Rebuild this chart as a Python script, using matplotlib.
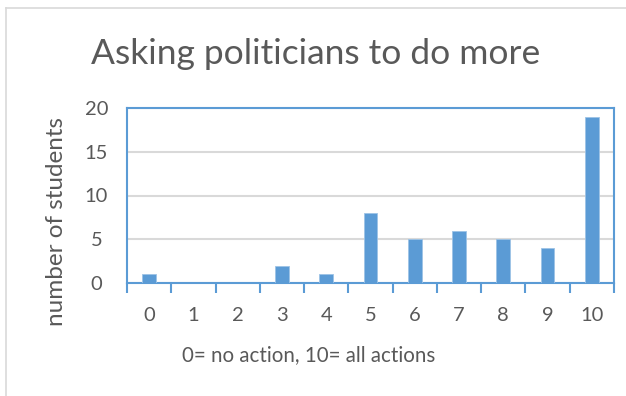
import matplotlib.pyplot as plt
from matplotlib.lines import Line2D

categories = ["0", "1", "2", "3", "4", "5", "6", "7", "8", "9", "10"]
students = [1, 0, 0, 2, 1, 8, 5, 6, 5, 4, 19]
y_ticks = [0, 5, 10, 15, 20]

title = "Asking politicians to do more"
x_title = "0= no action, 10= all actions"
y_title = "number of students"

bar_color = "#5B9BD5"
axis_color = "#5B9BD5"
text_color = "#595959"
grid_color = "#D9D9D9"

plt.rcParams["font.family"] = ["Lato", "DejaVu Sans"]

W, H = 626, 396
fig = plt.figure(figsize=(W / 100, H / 100), dpi=100)

# chart frame (top and left edges)
fig.add_artist(Line2D([6 / W, 1], [1 - 8 / H, 1 - 8 / H], color="#D9D9D9", lw=1.2, transform=fig.transFigure))
fig.add_artist(Line2D([6 / W, 6 / W], [0, 1 - 8 / H], color="#D9D9D9", lw=1.2, transform=fig.transFigure))

left, right, top, bottom = 127, 614, 108, 283
ax = fig.add_axes([left / W, 1 - bottom / H, (right - left) / W, (bottom - top) / H])

x = list(range(len(categories)))
ax.bar(x, students, width=0.31, color=bar_color, edgecolor="#9DC3E6", linewidth=0.6, zorder=3)

ax.set_xlim(-0.5, len(categories) - 0.5)
ax.set_ylim(0, 20)
ax.set_yticks(y_ticks)
ax.set_yticklabels([str(v) for v in y_ticks], fontsize=14.5, color=text_color)
ax.tick_params(axis="y", length=0, pad=22)
for lbl in ax.get_yticklabels():
    lbl.set_horizontalalignment("center")
ax.yaxis.grid(True, color=grid_color, lw=1.5, zorder=0)

# category labels centred, tick marks on category boundaries
ax.set_xticks(x)
ax.set_xticklabels(categories, fontsize=14.5, color=text_color)
ax.tick_params(axis="x", which="major", length=0, pad=17)
ax.set_xticks([i - 0.5 for i in range(len(categories) + 1)], minor=True)
ax.tick_params(axis="x", which="minor", length=7, width=1.5, color=axis_color, direction="out")

for s in ax.spines.values():
    s.set_color(axis_color)
    s.set_linewidth(1.5)

fig.text(309 / W, 1 - 355 / H, x_title, fontsize=14.8, color=text_color, ha="center", va="center")
fig.text(57 / W, 1 - 222 / H, y_title, fontsize=17.5, color=text_color, ha="center", va="center",
         rotation=90)
fig.text(316 / W, 1 - 54 / H, title, fontsize=25.5, color=text_color, ha="center", va="center")

fig.savefig("out.png", dpi=100, facecolor="white")
